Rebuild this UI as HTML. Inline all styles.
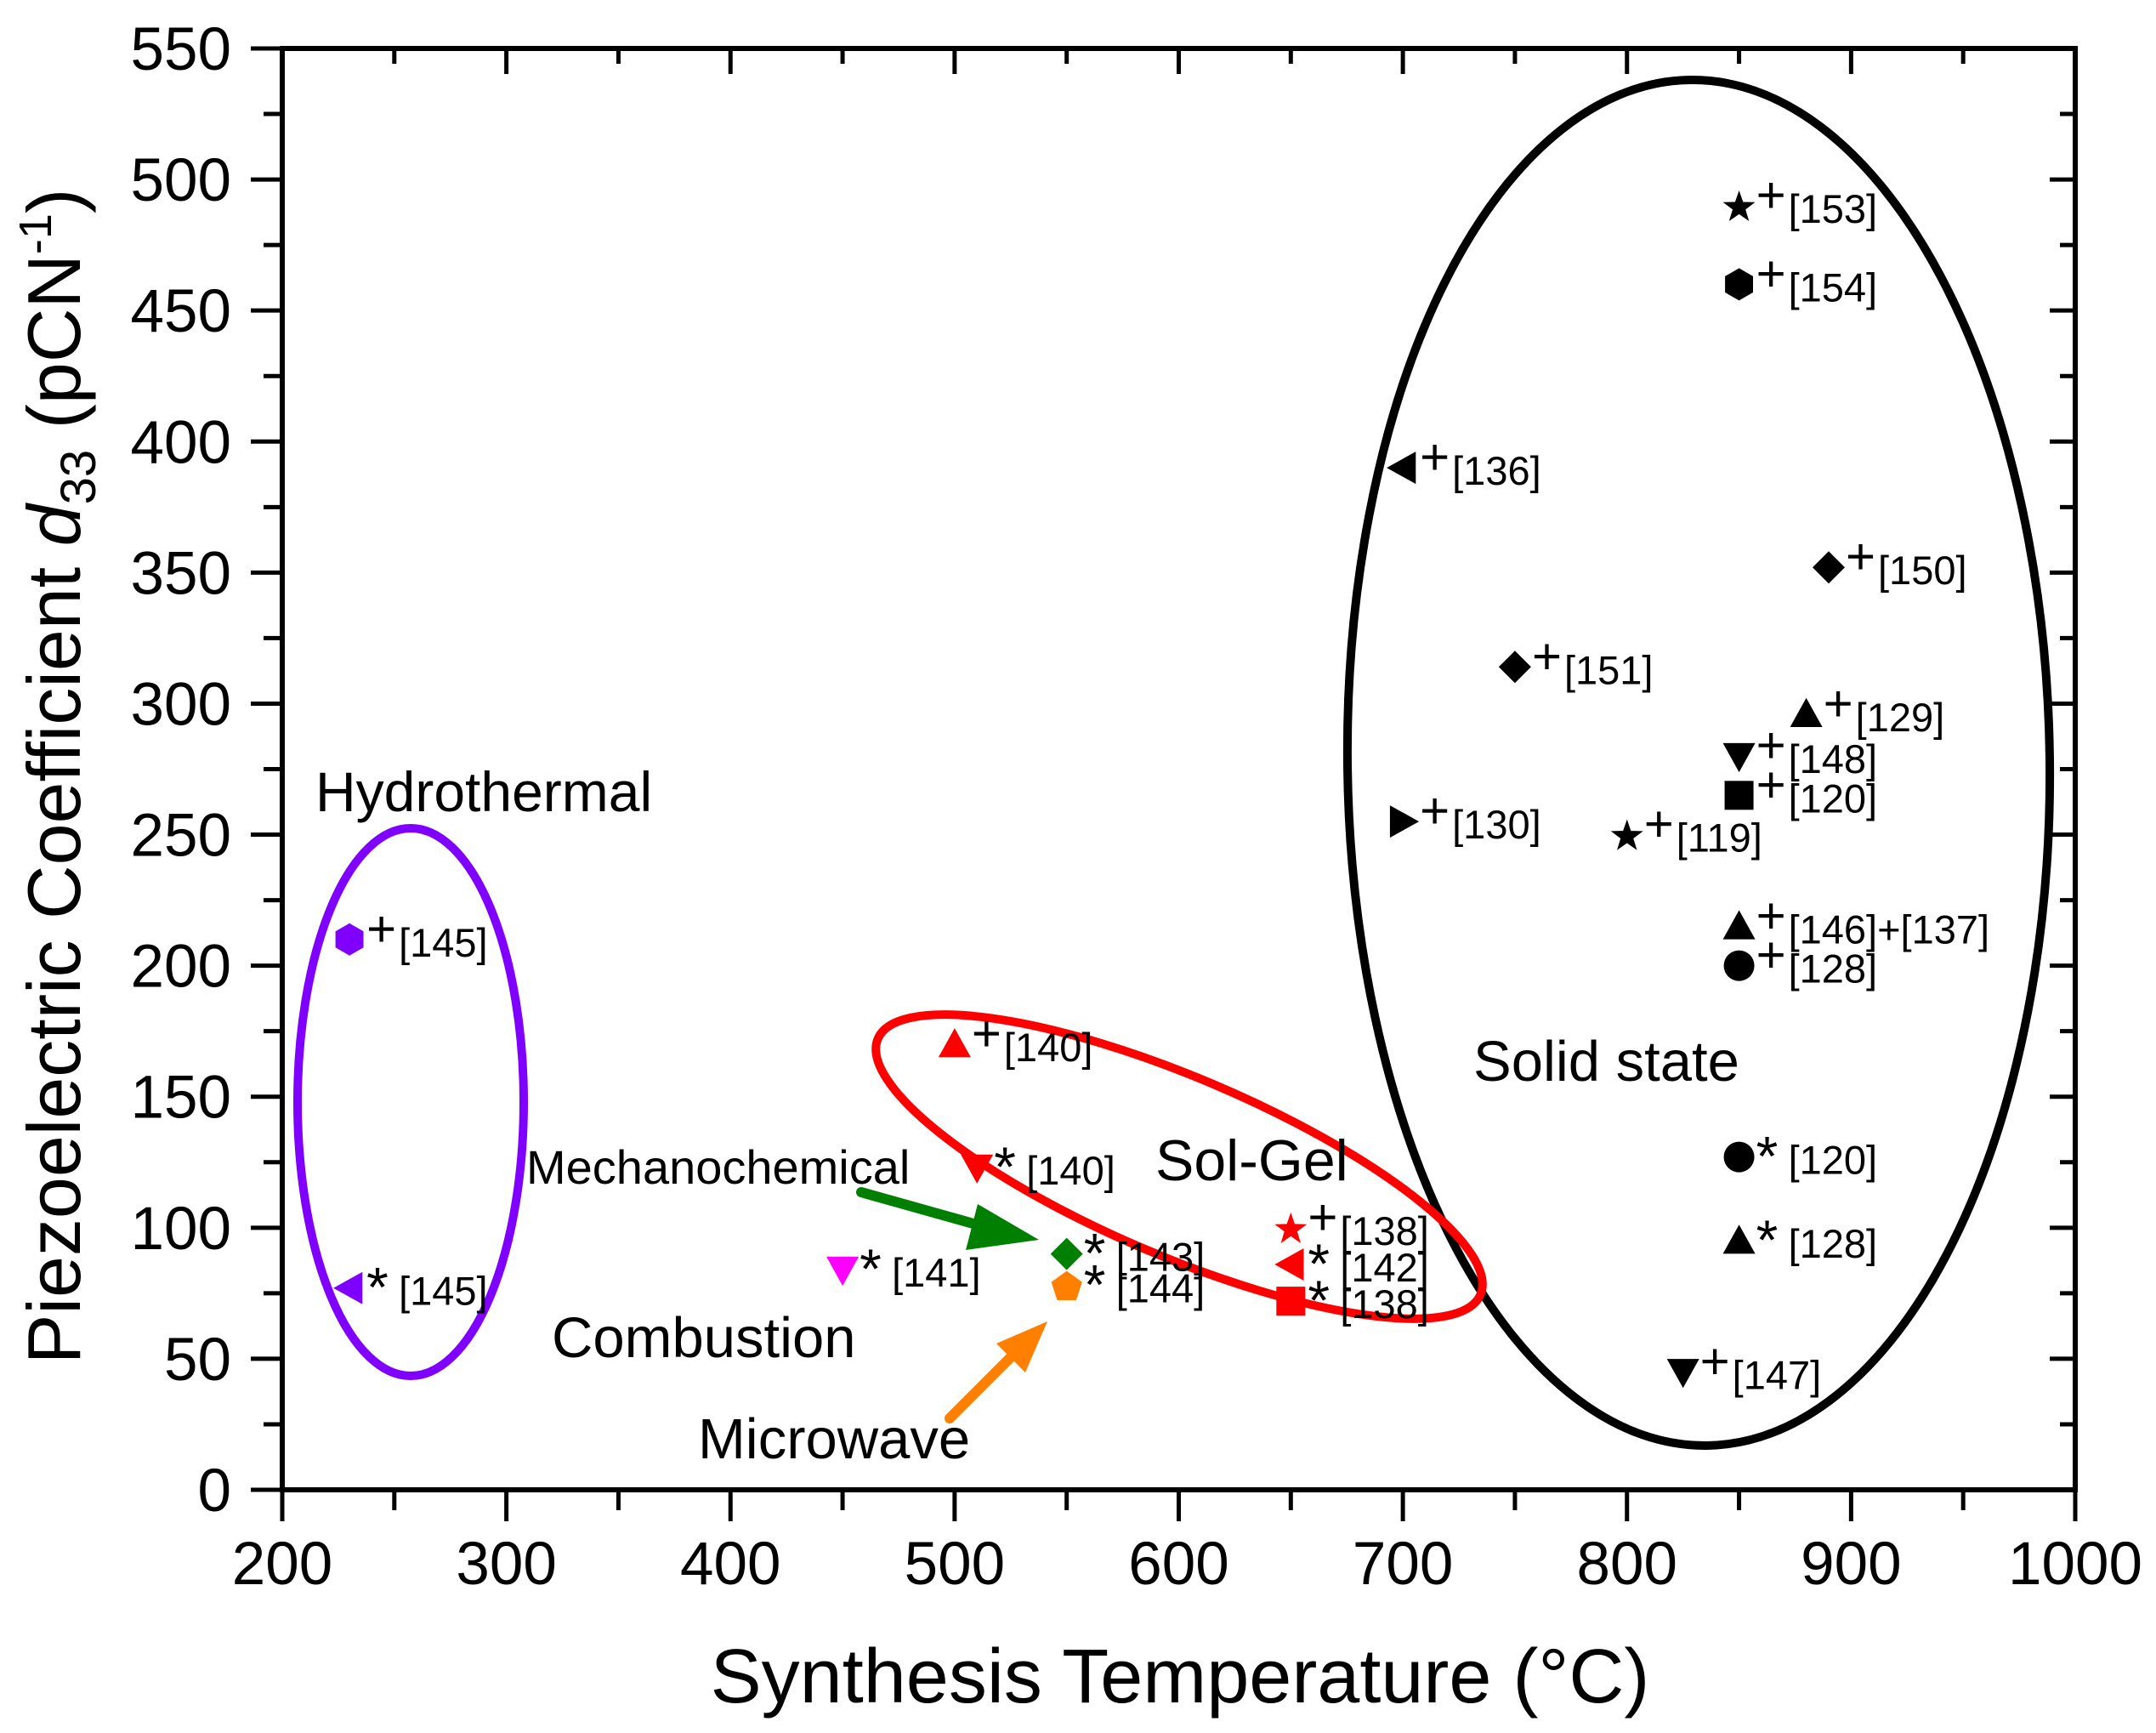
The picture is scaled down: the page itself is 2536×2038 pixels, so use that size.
<!DOCTYPE html>
<html><head><meta charset="utf-8"><style>
html,body{margin:0;padding:0;background:#fff}
svg{display:block}
text{font-family:"Liberation Sans",sans-serif}
</style></head><body>
<svg id="chart" width="2536" height="2038" viewBox="0 0 2536 2038" xmlns="http://www.w3.org/2000/svg">
<g id="ann">
  <ellipse cx="483" cy="1296" rx="133" ry="322" fill="none" stroke="#7f00ff" stroke-width="10"/>
  <ellipse cx="1998" cy="897" rx="413" ry="803" fill="none" stroke="#000" stroke-width="10" transform="rotate(-0.7 1998 897)"/>
  <ellipse cx="1387" cy="1372" rx="385" ry="105" fill="none" stroke="#ff0000" stroke-width="10" transform="rotate(23 1387 1372)"/>
  <g>
    <line x1="1013" y1="1402" x2="1170" y2="1446" stroke="#007f00" stroke-width="12" stroke-linecap="round"/>
    <polygon points="1222,1458 1150,1416 1136,1470" fill="#007f00"/>
  </g>
  <g>
    <line x1="1117" y1="1668" x2="1200" y2="1585" stroke="#ff7f00" stroke-width="12" stroke-linecap="round"/>
    <polygon points="1232,1554 1172,1580 1206,1614" fill="#ff7f00"/>
  </g>
  <text x="371" y="954" font-size="66">Hydrothermal</text>
  <text x="619" y="1392" font-size="56">Mechanochemical</text>
  <text x="1359" y="1388" font-size="68">Sol-Gel</text>
  <text x="649" y="1596" font-size="67">Combustion</text>
  <text x="821" y="1715" font-size="67">Microwave</text>
  <text x="1733" y="1271" font-size="67">Solid state</text>
</g>
<g id="axes"></g>
<g id="marks"></g>
</svg>
<script>
const xTicks = [200,300,400,500,600,700,800,900,1000];
const yTicks = [0,50,100,150,200,250,300,350,400,450,500,550];
const temps   = [850,850,700,890,750,880,850,850,700,800,850,850,850,850,825, 500,510,650,650,650, 550,550,450,230,230];
const d33     = [490,460,390,352,314,296,280,265,255,250,215,200,127,95,45, 170,123,100,86,72, 90,78,84,210,77];
const shapes  = ['star','hex','left','diamond','diamond','up','down','square','right','star','up','circle','circle','up','down', 'up','down','star','left','square', 'diamond','pent','down','hex','left'];
const colors  = ['#000','#000','#000','#000','#000','#000','#000','#000','#000','#000','#000','#000','#000','#000','#000', '#ff0000','#ff0000','#ff0000','#ff0000','#ff0000', '#007f00','#ff7f00','#ff00ff','#7f00ff','#7f00ff'];
const syms    = ['+','+','+','+','+','+','+','+','+','+','+','+','*','*','+', '+','*','+','*','*', '*','*','*','+','*'];
const refs    = ['[153]','[154]','[136]','[150]','[151]','[129]','[148]','[120]','[130]','[119]','[146]+[137]','[128]','[120]','[128]','[147]', '[140]','[140]','[138]','[142]','[138]', '[143]','[144]','[141]','[145]','[145]'];

const NS='http://www.w3.org/2000/svg';
const X0=332,X1=2441,Y0=1752,Y1=57;
function X(v){return X0+(v-200)/800*(X1-X0);}
function Y(v){return Y0-v/550*(Y0-Y1);}
function mk(tag,attrs,parent){const e=document.createElementNS(NS,tag);for(const k in attrs)e.setAttribute(k,attrs[k]);parent.appendChild(e);return e;}
const axes=document.getElementById('axes'), marks=document.getElementById('marks');

const frame=mk('rect',{x:X0,y:Y1,width:X1-X0,height:Y0-Y1,fill:'none',stroke:'#000','stroke-width':6},axes);


for(let i=0;i<xTicks.length;i++){
  const v=xTicks[i],x=X(v);
  const t=mk('line',{x1:x,y1:Y0,x2:x,y2:Y0+37,stroke:'#000','stroke-width':5},axes);
  
  
  mk('line',{x1:x,y1:Y1,x2:x,y2:Y1+30,stroke:'#000','stroke-width':5},axes);
  if(i<xTicks.length-1){const xm=X(v+50);
    mk('line',{x1:xm,y1:Y0,x2:xm,y2:Y0+24,stroke:'#000','stroke-width':5},axes);
    mk('line',{x1:xm,y1:Y1,x2:xm,y2:Y1+18,stroke:'#000','stroke-width':5},axes);}
  const l=mk('text',{x:x,y:1863,'font-size':71,'text-anchor':'middle'},axes);
  l.textContent=v;
  
  
}
for(let i=0;i<yTicks.length;i++){
  const v=yTicks[i],y=Y(v);
  const t=mk('line',{x1:X0-37,y1:y,x2:X0,y2:y,stroke:'#000','stroke-width':5},axes);
  
  
  mk('line',{x1:X1-30,y1:y,x2:X1,y2:y,stroke:'#000','stroke-width':5},axes);
  if(i<yTicks.length-1){const ym=Y(v+25);
    mk('line',{x1:X0-22,y1:ym,x2:X0,y2:ym,stroke:'#000','stroke-width':5},axes);
    mk('line',{x1:X1-18,y1:ym,x2:X1,y2:ym,stroke:'#000','stroke-width':5},axes);}
  const l=mk('text',{x:272,y:y+25,'font-size':71,'text-anchor':'end'},axes);
  l.textContent=v;
  
  
}
const xt=mk('text',{x:1388,y:2002,'font-size':90,'text-anchor':'middle'},axes);
xt.textContent='Synthesis Temperature (°C)';


const yt=mk('text',{x:0,y:0,'font-size':88,'text-anchor':'middle',transform:'translate(94 913) rotate(-90)'},axes);


yt.innerHTML='Piezoelectric Coefficient <tspan font-style="italic">d</tspan><tspan font-size="58" dy="18">33</tspan><tspan dy="-18"> (pCN</tspan><tspan font-size="54" dy="-34">-1</tspan><tspan dy="34">)</tspan>';

function shape(s,x,y,c){
  const r=19;let e;
  if(s==='circle') e=mk('circle',{cx:x,cy:y,r:r-1,fill:c},marks);
  else if(s==='square') e=mk('rect',{x:x-r+2,y:y-r+2,width:2*r-4,height:2*r-4,fill:c},marks);
  else{let p=[];
    if(s==='up')p=[[0,-r],[r,r*0.8],[-r,r*0.8]];
    else if(s==='down')p=[[0,r],[r,-r*0.8],[-r,-r*0.8]];
    else if(s==='left')p=[[-r,0],[r*0.8,-r],[r*0.8,r]];
    else if(s==='right')p=[[r,0],[-r*0.8,-r],[-r*0.8,r]];
    else if(s==='diamond')p=[[0,-r],[r,0],[0,r],[-r,0]];
    else if(s==='hex'){for(let k=0;k<6;k++){const a=Math.PI/3*k+Math.PI/6;p.push([r*Math.cos(a),r*Math.sin(a)]);}}
    else if(s==='pent'){for(let k=0;k<5;k++){const a=-Math.PI/2+2*Math.PI/5*k;p.push([r*Math.cos(a),r*Math.sin(a)+2]);}}
    else if(s==='star'){for(let k=0;k<10;k++){const a=-Math.PI/2+Math.PI/5*k,rr=k%2?r*0.42:r*1.05;p.push([rr*Math.cos(a),rr*Math.sin(a)+2]);}}
    e=mk('polygon',{points:p.map(q=>(x+q[0]).toFixed(1)+','+(y+q[1]).toFixed(1)).join(' '),fill:c},marks);}
  return e;
}
for(let i=0;i<temps.length;i++){
  const x=X(temps[i]),y=Y(d33[i]);
  const m=shape(shapes[i],x,y,colors[i]);
  
  
  const isStar=syms[i]==='*';
  const s=mk('text',{x:x+20,y:isStar?y+22:y+8,'font-size':isStar?66:60},marks);
  s.textContent=syms[i];
  
  
  const t=mk('text',{x:x+58,y:y+20,'font-size':47},marks);
  t.textContent=refs[i];
  
  
}
</script>
</body></html>
